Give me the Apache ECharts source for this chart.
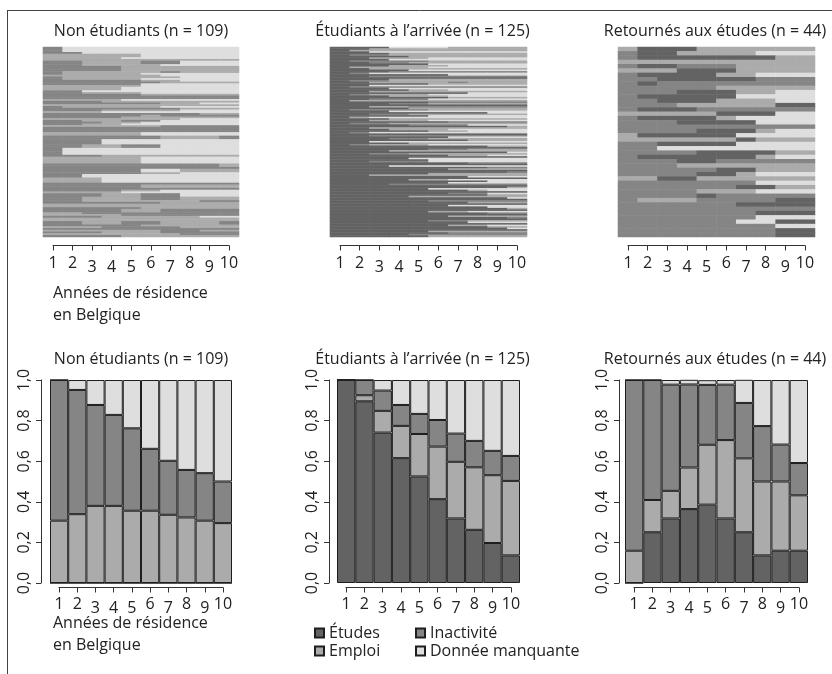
<!DOCTYPE html>
<html><head><meta charset="utf-8">
<script src="https://cdn.jsdelivr.net/npm/echarts@6/dist/echarts.min.js"></script>
<style>html,body{margin:0;padding:0;background:#fff}#c{width:832px;height:674px}</style>
</head><body><div id="c"></div>
<script>
// ---------- DATA ----------
const years = ['1','2','3','4','5','6','7','8','9','10'];
const stateNames = ['Études','Emploi','Inactivité','Donnée manquante'];
const stateCodes = ['S','W','I','M'];
const groupTitles = ['Non étudiants (n = 109)','Étudiants à l’arrivée (n = 125)','Retournés aux études (n = 44)'];
const yTickLabels = ['0,0','0,2','0,4','0,6','0,8','1,0'];
const xAxisTitle = 'Années de résidence\nen Belgique';

// individual sequences (run-length: state letter + number of years)
const seqNonEtudiants = [
'I1M9','I1M9','I1M9','I2M8','W5M5','W5M5','W4M6','W10','I2W3I2M3','I2W3I2M3',
'I2W4M4','I4W6','I4W6','I4W6','I1W5I1W3','I1W4M5','W6M4','I1W6M3','I1W4M5','I5W2M3',
'I6W4','I5M5','W5M5','W4M6','W4M6','I2M8','I2W3M5','I5W5','I10','I10',
'W4M6','I3W7','I6W2M2','W10','I1W5M4','I7W3','I3W4M3','W3M7','I8W2','I5W1I4',
'I4W6','W7M3','I2W2I2M4','I3W2M5','I2W2M6','W6I4','I10','I10','I10','W5M5',
'W5M5','I6W3I1','I6W3I1','I3M7','I3M7','I3M7','I2W2I2M4','I2W2I2M4','I1M9','I1M9',
'I1M9','I1M9','I3W7','W5M5','W5M5','W5M5','W5M5','I9W1','I9W1','I10',
'I5M2W3','I5M2W3','I5W2M3','I2M8','I2M8','W3M7','W3M7','W3M7','I10','I5W5',
'I5W5','I10','I4W2M4','W4M6','I3W2I2M3','I3W2I2M3','I2W3I2W3','I2W3I2W3','I2W6I2','I6W4',
'W10','W10','I5W5','I4W2I4','I4W2I4','W2I8','W4I6','I3W5M2','W10','W10',
'I2W2I2W3I1','I2W2I2W3I1','I5W5','W3I4W3','I10','W6I2W2','I3W3I4','W7I3','I4W6'
];
const seqEtudiants = [
'S3M3W4','S2W8','S1W9','S2M8','S3W7','S1I2W7','S4W6','S2W3M5','S3M7','S1I4W5',
'S2I2W6','S5M5','S3W3M4','S1W4M5','S2W8','S4M6','S3I7','S1I1M8','S6M4','S2I8',
'S10','S3W7','S1I2W7','S2W4I1W3','S5W5','S2M8','S1I9','S3M7','S4W2M4','S2W8',
'S7M3','S1I1W3M5','S3W3M4','S6W4','S2I3M5','S1W9','S5I5','S3I2W5','S10','S2W2I6',
'S4W6','S1I4W5','S3M7','S8M2','S2I2W6','S5M5','S1W1M8','S3W7','S2W3M5','S6I4',
'S1I2W7','S4I3M3','S9W1','S2W8','S3W3M4','S5W2M3','S1I1M8','S10','S2I8','S6M4',
'S3I2W5','S7W3','S2M8','S4W6','S1I1W3M5','S8W2','S10','S5I2W3','S3W7','S9M1',
'S2I2W6','S6W2M2','S10','S4M6','S5M5','S2I3M5','S7I3','S10','S3M7','S8I2',
'S6W4','S10','S9I1','S5W5','S2W8','S7M3','S10','S4W2M4','S8M2','S6M4',
'S3I7','S10','S9W1','S5M5','S7W1M2','S10','S6I2M2','S8W2','S4W6','S9M1',
'S10','S5I5','S7W3','S10','S6M4','S8M2','S9W1','S10','S5W2M3','S8I2',
'S10','S6W4','S9I1','S10','S5I2W3','S7M3','S10','S6W2M2','S8W2','S9M1',
'S10','S5W5','S6I4','S4I6','S5W5'
];
const seqRetournes = [
'W1S3W6','I1S2W4M3','I1S7W2','W10','I1S2I3W4','W3S3W4','I1S4W2M3','I2S5I3','I1S1I8','I5W5',
'I3S3W2M2','I1S5M4','I2S3W3M2','I3W5S2','I1S3I6','W5S3M2','I1S4W1M4','I3S4M3','I10','I4S3W1M2',
'W1S5M4','W6S1W3','I2S4M4','I2M8','I4S4W2','I1S6W1M2','I3S2I5','I3W7','I5S2W3','I4S2W1M3',
'W2S2W6','I7M3','I6S2W2','I4W3M3','I4S1I5','I1W3I4S2','I6S4','I10','I7S3','I7M3',
'I6M2S2','I8M2','I8S2','I8S2'
];

// state distributions (share of each state per year)
const distNonEtudiants = {
  etudes:   [0,0,0,0,0,0,0,0,0,0],
  emploi:   [0.307,0.339,0.380,0.380,0.356,0.356,0.336,0.323,0.307,0.295],
  inact:    [0.693,0.612,0.497,0.448,0.406,0.305,0.266,0.234,0.234,0.205],
  manquant: [0,0.049,0.123,0.172,0.238,0.339,0.398,0.443,0.459,0.500]
};
const distEtudiants = {
  etudes:   [1,0.895,0.741,0.615,0.525,0.413,0.318,0.262,0.197,0.136],
  emploi:   [0,0.030,0.107,0.159,0.209,0.259,0.279,0.308,0.334,0.367],
  inact:    [0,0.075,0.100,0.103,0.099,0.131,0.139,0.130,0.120,0.123],
  manquant: [0,0,0.052,0.123,0.167,0.197,0.264,0.300,0.349,0.374]
};
const distRetournes = {
  etudes:   [0,0.250,0.318,0.364,0.386,0.318,0.250,0.136,0.159,0.159],
  emploi:   [0.159,0.159,0.136,0.205,0.295,0.386,0.364,0.364,0.341,0.273],
  inact:    [0.841,0.591,0.523,0.409,0.295,0.273,0.273,0.273,0.182,0.159],
  manquant: [0,0,0.023,0.023,0.023,0.023,0.114,0.227,0.318,0.409]
};

// ---------- STYLE / LAYOUT ----------
const FONT = '"Open Sans", sans-serif';
const TXT = '#222';
const FS = 16;
const stateColors = ['#636363','#ababab','#858585','#dedede'];
const seqs = [seqNonEtudiants, seqEtudiants, seqRetournes];
const dists = [distNonEtudiants, distEtudiants, distRetournes];
const topGrid = [{left:43,width:196},{left:330,width:197},{left:618,width:197}];
const topAxis = [{left:53,width:176},{left:340,width:177},{left:628,width:177}];
const botGrid = [{left:50,width:182,off:9},{left:337,width:183,off:8},{left:625,width:183,off:6}];
const botAxis = [{left:59,width:164},{left:346,width:165},{left:634,width:165}];
const titlePad = [[0,0,0,0],[0,12,0,0],[0,3,0,0]];

function expand(rle){
  const out=[]; const re=/([SWIM])(\d+)/g; let m;
  while((m=re.exec(rle))){ for(let k=0;k<+m[2];k++) out.push(stateCodes.indexOf(m[1])); }
  return out;
}
const desc = ['3','4','5','7','9'];
function numFmt(v){ const s=String(v); return desc.indexOf(s)>=0 ? '{d|'+s+'}' : '{a|'+s+'}'; }
const numRich = {
  a:{fontFamily:FONT,fontSize:FS,color:TXT,padding:[0,0,3,0]},
  d:{fontFamily:FONT,fontSize:FS,color:TXT,padding:[4,0,0,0]}
};
const axLine = {show:true,lineStyle:{color:'#333',width:1}};
const axTick = {show:true,length:5,lineStyle:{color:'#333',width:1}};
function mkGrid(g){ return Object.assign({containLabel:false,outerBoundsMode:'none'},g); }

const grid=[], xAxis=[], yAxis=[], series=[];
// top: sequence index plots
for(let i=0;i<3;i++){
  grid.push(mkGrid({left:topGrid[i].left,width:topGrid[i].width,top:47,height:190}));
  xAxis.push({gridIndex:grid.length-1,type:'category',data:years,position:'top',
    axisLine:{show:false},axisTick:{show:false},axisLabel:{show:false},splitLine:{show:false},
    name:groupTitles[i],nameLocation:'middle',nameGap:8,
    nameTextStyle:{fontFamily:FONT,fontSize:FS,color:TXT,padding:titlePad[i]}});
  const rows = seqs[i].map((_,k)=>String(k+1));
  yAxis.push({gridIndex:grid.length-1,type:'category',data:rows,inverse:true,show:false});
  const data=[];
  seqs[i].forEach((r,ri)=>expand(r).forEach((s,ci)=>data.push([ci,ri,s])));
  series.push({type:'heatmap',xAxisIndex:xAxis.length-1,yAxisIndex:yAxis.length-1,data:data,
    emphasis:{disabled:true},itemStyle:{borderWidth:0},progressive:0});
}
// top: R-style x axes
for(let i=0;i<3;i++){
  grid.push(mkGrid({left:topAxis[i].left,width:topAxis[i].width,top:244,height:1.5}));
  xAxis.push({gridIndex:grid.length-1,type:'value',min:1,max:10,interval:1,
    axisLine:axLine,axisTick:axTick,splitLine:{show:false},
    axisLabel:{margin:10,formatter:numFmt,rich:numRich,showMinLabel:true,showMaxLabel:true,hideOverlap:false}});
  yAxis.push({gridIndex:grid.length-1,type:'value',show:false});
}
// bottom: state distribution plots
const keys=['etudes','emploi','inact','manquant'];
for(let i=0;i<3;i++){
  grid.push(mkGrid({left:botGrid[i].left,width:botGrid[i].width,top:380,height:203}));
  xAxis.push({gridIndex:grid.length-1,type:'category',data:years,position:'top',
    axisLine:{show:false},axisTick:{show:false},axisLabel:{show:false},splitLine:{show:false},
    name:groupTitles[i],nameLocation:'middle',nameGap:13,
    nameTextStyle:{fontFamily:FONT,fontSize:FS,color:TXT,padding:titlePad[i]}});
  yAxis.push({gridIndex:grid.length-1,type:'value',min:0,max:1,interval:0.2,offset:botGrid[i].off,
    axisLine:axLine,axisTick:axTick,splitLine:{show:false},
    axisLabel:{rotate:90,margin:9,fontFamily:FONT,fontSize:FS,color:TXT,showMinLabel:true,showMaxLabel:true,hideOverlap:false,
      formatter:(v)=>yTickLabels[Math.round(v*5)]}});
  keys.forEach((k,si)=>{
    series.push({type:'bar',name:stateNames[si],stack:'g'+i,xAxisIndex:xAxis.length-1,yAxisIndex:yAxis.length-1,
      data:dists[i][k],barCategoryGap:'0%',
      itemStyle:{color:stateColors[si],borderColor:'#1e1e1e',borderWidth:1},
      emphasis:{disabled:true}});
  });
}
// bottom: R-style x axes
for(let i=0;i<3;i++){
  grid.push(mkGrid({left:botAxis[i].left,width:botAxis[i].width,top:586,height:1.5}));
  xAxis.push({gridIndex:grid.length-1,type:'value',min:1,max:10,interval:1,
    axisLine:axLine,axisTick:axTick,splitLine:{show:false},
    axisLabel:{margin:9,formatter:numFmt,rich:numRich,showMinLabel:true,showMaxLabel:true,hideOverlap:false}});
  yAxis.push({gridIndex:grid.length-1,type:'value',show:false});
}

const legendCommon = {orient:'vertical',top:620,itemWidth:9,itemHeight:9,itemGap:2,
  icon:'rect',textStyle:{fontFamily:FONT,fontSize:FS,color:TXT,lineHeight:16},selectedMode:false};
const axisTitleStyle = {fontFamily:FONT,fontSize:FS,color:TXT,fontWeight:'normal',lineHeight:22};

const option = {
  animation:false,
  backgroundColor:'#fff',
  textStyle:{fontFamily:FONT},
  title:[
    {text:xAxisTitle,left:53,top:282,padding:0,textStyle:axisTitleStyle},
    {text:xAxisTitle,left:53,top:612,padding:0,textStyle:axisTitleStyle}
  ],
  visualMap:{type:'piecewise',show:false,dimension:2,seriesIndex:[0,1,2],
    pieces:stateColors.map((c,k)=>({value:k,color:c}))},
  legend:[
    Object.assign({left:309,data:[stateNames[0],stateNames[1]]},legendCommon),
    Object.assign({left:410,data:[stateNames[2],stateNames[3]]},legendCommon)
  ],
  graphic:[
    {type:'line',shape:{x1:7.5,y1:10,x2:7.5,y2:674},style:{stroke:'#444',lineWidth:1},silent:true},
    {type:'line',shape:{x1:7,y1:10.5,x2:832,y2:10.5},style:{stroke:'#444',lineWidth:1},silent:true}
  ],
  grid:grid, xAxis:xAxis, yAxis:yAxis, series:series
};
const chart = echarts.init(document.getElementById('c'),null,{renderer:'canvas'});
chart.setOption(option);
</script></body></html>
